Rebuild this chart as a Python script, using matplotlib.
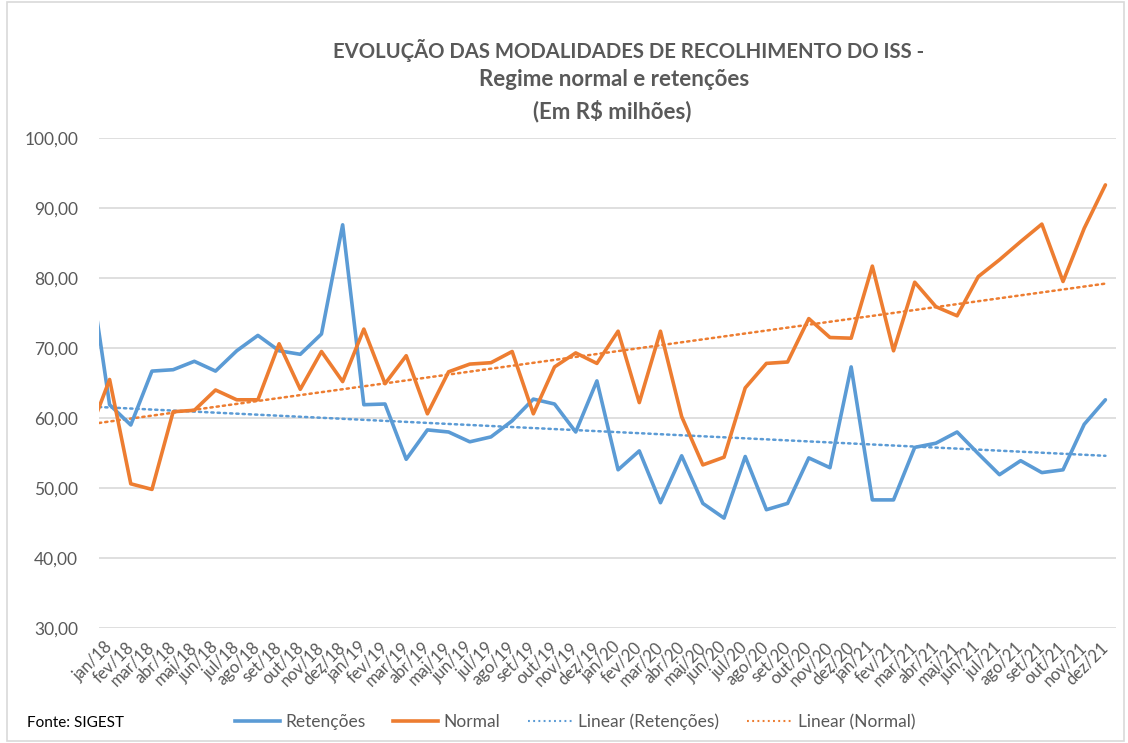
import matplotlib
matplotlib.use("Agg")
import matplotlib.pyplot as plt
import numpy as np
from matplotlib.patches import Rectangle
from matplotlib.lines import Line2D

# ---------------- data ----------------
# first entry (dez/17) lies just outside the visible axis range (clipped, as in the reference)
categories = ["dez/17",
              "jan/18", "fev/18", "mar/18", "abr/18", "mai/18", "jun/18",
              "jul/18", "ago/18", "set/18", "out/18", "nov/18", "dez/18",
              "jan/19", "fev/19", "mar/19", "abr/19", "mai/19", "jun/19",
              "jul/19", "ago/19", "set/19", "out/19", "nov/19", "dez/19",
              "jan/20", "fev/20", "mar/20", "abr/20", "mai/20", "jun/20",
              "jul/20", "ago/20", "set/20", "out/20", "nov/20", "dez/20",
              "jan/21", "fev/21", "mar/21", "abr/21", "mai/21", "jun/21",
              "jul/21", "ago/21", "set/21", "out/21", "nov/21", "dez/21"]

retencoes = [82.5,
             61.9, 59.0, 66.7, 66.9, 68.1, 66.7, 69.6, 71.8, 69.6, 69.1, 72.0, 87.6,
             61.9, 62.0, 54.1, 58.3, 58.0, 56.6, 57.3, 59.6, 62.7, 62.0, 58.0, 65.3,
             52.6, 55.3, 47.9, 54.6, 47.8, 45.7, 54.5, 46.9, 47.8, 54.3, 52.9, 67.3,
             48.3, 48.3, 55.8, 56.4, 58.0, 54.9, 51.9, 53.9, 52.2, 52.6, 59.1, 62.6]

normal = [57.5,
          65.5, 50.6, 49.8, 60.9, 61.1, 64.0, 62.6, 62.6, 70.6, 64.1, 69.5, 65.2,
          72.7, 64.9, 68.9, 60.6, 66.6, 67.7, 67.9, 69.5, 60.6, 67.3, 69.3, 67.8,
          72.4, 62.2, 72.4, 60.2, 53.3, 54.4, 64.3, 67.8, 68.0, 74.2, 71.5, 71.4,
          81.7, 69.6, 79.4, 75.9, 74.6, 80.2, 82.6, 85.2, 87.7, 79.5, 87.1, 93.3]

# linear trend values (as shown in the chart) at jan/18 and dez/21
trend_retencoes = [61.5, 54.6]
trend_normal = [59.5, 79.2]

y_ticks = [30, 40, 50, 60, 70, 80, 90, 100]
y_tick_labels = ["30,00", "40,00", "50,00", "60,00", "70,00", "80,00", "90,00", "100,00"]

title_lines = ["EVOLUÇÃO DAS MODALIDADES DE RECOLHIMENTO DO ISS -",
               "Regime normal e retenções",
               "(Em R$ milhões)"]
series_names = ["Retenções", "Normal", "Linear (Retenções)", "Linear (Normal)"]
source_text = "Fonte: SIGEST"

# ---------------- style ----------------
plt.rcParams['font.family'] = ['Lato', 'DejaVu Sans']
BLUE = "#5B9BD5"
ORANGE = "#ED7D31"
GRID = "#D9D9D9"
TXT = "#595959"

W, H = 1128, 743
fig = plt.figure(figsize=(W / 100, H / 100), dpi=100)
fig.patch.set_facecolor("white")

left, right, top, bottom = 99, 1116, 138, 628
ax = fig.add_axes([left / W, 1 - bottom / H, (right - left) / W, (bottom - top) / H])

x = np.arange(len(categories))
ax.plot(x, retencoes, color=BLUE, lw=2.6, solid_joinstyle="round", solid_capstyle="round", zorder=4)
ax.plot(x, normal, color=ORANGE, lw=2.6, solid_joinstyle="round", solid_capstyle="round", zorder=4)

# linear trend lines
xv = x[1:]
dot = (0, (0.9, 1.6))
for tv, col in ((trend_retencoes, BLUE), (trend_normal, ORANGE)):
    k = (tv[1] - tv[0]) / (xv[-1] - xv[0])
    xt = np.array([0.5, xv[-1]])
    ax.plot(xt, tv[0] + k * (xt - xv[0]), color=col, lw=1.8, linestyle=dot,
            dash_capstyle="round", zorder=3)

ax.set_xlim(0.5, len(categories) - 0.5)
ax.set_ylim(30, 100)
ax.set_yticks(y_ticks)
ax.set_yticklabels(y_tick_labels)
ax.yaxis.grid(True, color=GRID, lw=1.2)
ax.set_axisbelow(True)
for s in ax.spines.values():
    s.set_visible(False)
ax.tick_params(axis="y", length=0, pad=15, labelsize=12.5, labelcolor=TXT)
ax.set_xticks(xv)
ax.set_xticklabels(categories[1:], rotation=45, ha="right", va="center",
                   rotation_mode="anchor", fontsize=12, color=TXT)
ax.tick_params(axis="x", length=0, pad=12)

# titles
fig.text(629 / W, 1 - 50 / H, title_lines[0], ha="center", va="center",
         fontsize=14.6, fontweight="bold", color=TXT)
fig.text(614 / W, 1 - 80 / H, title_lines[1], ha="center", va="center",
         fontsize=16, fontweight="bold", color=TXT)
fig.text(612 / W, 1 - 111 / H, title_lines[2], ha="center", va="center",
         fontsize=16, fontweight="bold", color=TXT)

# source
fig.text(27 / W, 1 - 723 / H, source_text, ha="left", va="center", fontsize=11, color="black")

# legend
handles = [Line2D([], [], color=BLUE, lw=2.6),
           Line2D([], [], color=ORANGE, lw=2.6),
           Line2D([], [], color=BLUE, lw=1.5, linestyle=dot),
           Line2D([], [], color=ORANGE, lw=1.5, linestyle=dot)]
leg = fig.legend(handles, series_names, loc="center", bbox_to_anchor=(575 / W, 1 - 722 / H),
                 ncol=4, frameon=False, fontsize=12.5, handlelength=2.6, handletextpad=0.3,
                 columnspacing=1.6)
for t in leg.get_texts():
    t.set_color(TXT)

# chart-area border
fig.patches.append(Rectangle((7 / W, 2 / H), (1124 - 7) / W, (741 - 2) / H,
                             transform=fig.transFigure, fill=False, edgecolor=GRID, lw=1.2))

fig.savefig("out.png", dpi=100)
